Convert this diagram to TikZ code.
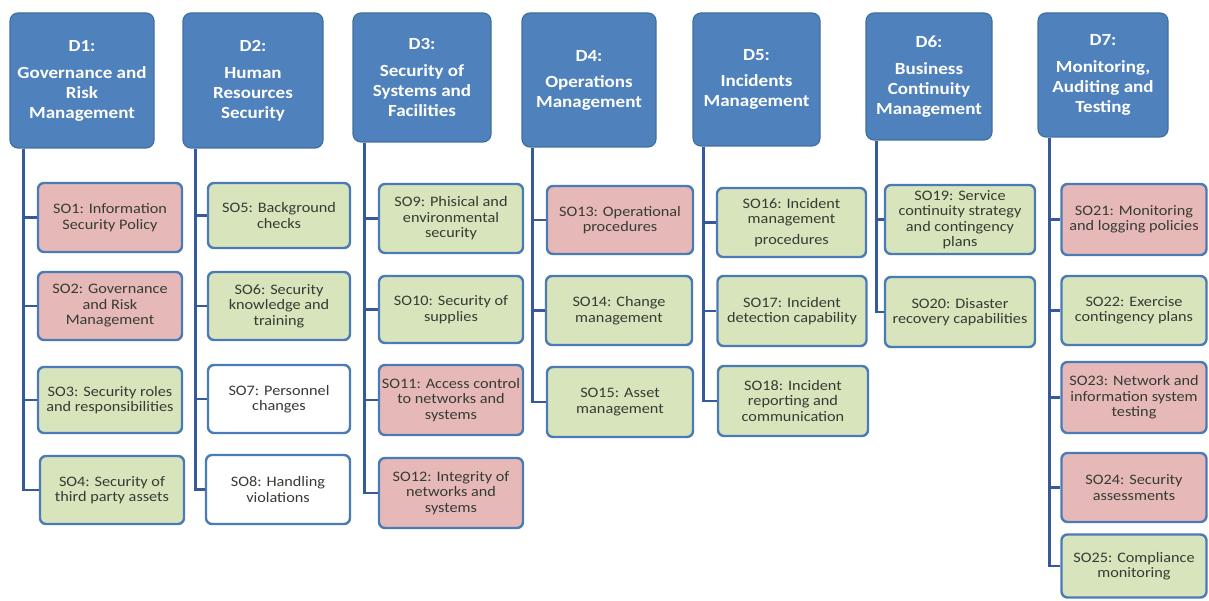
\documentclass[tikz,border=0pt]{standalone}
\usepackage{fontspec}
\usetikzlibrary{calc}
\newfontfamily\calfont[FakeStretch=1.12]{Carlito}
\definecolor{hdrfill}{HTML}{4F81BD}
\definecolor{hdrborder}{HTML}{41709F}
\definecolor{soborder}{HTML}{4A7BB7}
\definecolor{pinkc}{HTML}{E6B9B8}
\definecolor{greenc}{HTML}{D8E4BC}
\definecolor{sotext}{HTML}{363B33}
\definecolor{connc}{HTML}{35599A}
\tikzset{
  hdr/.style={draw=hdrborder, fill=hdrfill, rounded corners=8pt, line width=1.2pt,
    text=white, font=\calfont\bfseries\fontsize{17}{20}\selectfont, align=center, inner sep=0pt},
  so/.style={draw=soborder, line width=2.4pt, rounded corners=6pt,
    font=\calfont\fontsize{14.5}{15.5}\selectfont, text=sotext, align=center, inner sep=0pt},
  pk/.style={so, fill=pinkc},
  gr/.style={so, fill=greenc},
  wh/.style={so, fill=white},
  conn/.style={draw=connc, line width=2.6pt},
}
\begin{document}
\begin{tikzpicture}[x=1pt,y=-1pt]
\useasboundingbox (0,0) rectangle (1209,601);
% headers
\node[hdr, minimum width=144, minimum height=135] (d1) at (82,80.5) {D1:\\[7pt]Governance and\\Risk\\Management};
\node[hdr, minimum width=140, minimum height=135] (d2) at (253,80.5) {D2:\\[7pt]Human\\Resources\\Security};
\node[hdr, minimum width=138, minimum height=129] (d3) at (422,77.5) {D3:\\[7pt]Security of\\Systems and\\Facilities};
\node[hdr, minimum width=134, minimum height=134] (d4) at (589,80) {D4:\\[6pt]Operations\\Management};
\node[hdr, minimum width=127, minimum height=133] (d5) at (756.5,79.5) {D5:\\[6pt]Incidents\\Management};
\node[hdr, minimum width=126, minimum height=127] (d6) at (929,76.5) {D6:\\[7pt]Business\\Continuity\\Management};
\node[hdr, minimum width=130, minimum height=124] (d7) at (1103,75) {D7:\\[7pt]Monitoring,\\Auditing and\\Testing};
% D1 children
\node[pk, minimum width=144, minimum height=69] (so1) at (110,217.5) {SO1: Information\\Security Policy};
\node[pk, minimum width=144, minimum height=68] (so2) at (110,306) {SO2: Governance\\and Risk\\Management};
\node[gr, minimum width=144, minimum height=66] (so3) at (110,400) {SO3: Security roles\\and responsibilities};
\node[gr, minimum width=144, minimum height=68] (so4) at (112,490) {SO4: Security of\\third party assets};
% D2 children
\node[gr, minimum width=142, minimum height=65] (so5) at (279,215.5) {SO5: Background\\checks};
\node[gr, minimum width=142, minimum height=68] (so6) at (279,306) {SO6: Security\\knowledge and\\training};
\node[wh, minimum width=142, minimum height=68] (so7) at (279,399) {SO7: Personnel\\changes};
\node[wh, minimum width=144, minimum height=69] (so8) at (278,489.5) {SO8: Handling\\violations};
% D3 children
\node[gr, minimum width=144, minimum height=69] (so9) at (451,218.5) {SO9: Phisical and\\environmental\\security};
\node[gr, minimum width=144, minimum height=67] (so10) at (451,309.5) {SO10: Security of\\supplies};
\node[pk, minimum width=144, minimum height=70] (so11) at (451,400) {SO11: Access control\\to networks and\\systems};
\node[pk, minimum width=144, minimum height=70] (so12) at (451,493) {SO12: Integrity of\\networks and\\systems};
% D4 children
\node[pk, minimum width=146, minimum height=68] (so13) at (620,220) {SO13: Operational\\procedures};
\node[gr, minimum width=146, minimum height=69] (so14) at (619,310.5) {SO14: Change\\management};
\node[gr, minimum width=146, minimum height=70] (so15) at (620,402) {SO15: Asset\\management};
% D5 children
\node[gr, minimum width=149, minimum height=69] (so16) at (791.5,222.5) {SO16: Incident\\management\\[5pt]procedures};
\node[gr, minimum width=149, minimum height=70] (so17) at (792,311) {SO17: Incident\\detection capability};
\node[gr, minimum width=150, minimum height=70] (so18) at (793,401) {SO18: Incident\\reporting and\\communication};
% D6 children
\node[gr, minimum width=150, minimum height=69] (so19) at (960,219.5) {SO19: Service\\continuity strategy\\and contingency\\plans};
\node[gr, minimum width=150, minimum height=70] (so20) at (960,312) {SO20: Disaster\\recovery capabilities};
% D7 children
\node[pk, minimum width=145, minimum height=71] (so21) at (1134,219.5) {SO21: Monitoring\\and logging policies};
\node[gr, minimum width=145, minimum height=69] (so22) at (1134,310.5) {SO22: Exercise\\contingency plans};
\node[pk, minimum width=145, minimum height=71] (so23) at (1134,397.5) {SO23: Network and\\information system\\testing};
\node[pk, minimum width=145, minimum height=69] (so24) at (1134,487.5) {SO24: Security\\assessments};
\node[gr, minimum width=145, minimum height=63] (so25) at (1134,566) {SO25: Compliance\\monitoring};
% connectors
\coordinate (t1) at ($(d1.south west)+(14,0)$);
\coordinate (t2) at ($(d2.south west)+(13,0)$);
\coordinate (t3) at ($(d3.south west)+(12,0)$);
\coordinate (t4) at ($(d4.south west)+(11,0)$);
\coordinate (t5) at ($(d5.south west)+(11,0)$);
\coordinate (t6) at ($(d6.south west)+(11,0)$);
\coordinate (t7) at ($(d7.south west)+(12,0)$);
\foreach \s in {so1,so2,so3,so4} \draw[conn] (t1) |- (\s.west);
\foreach \s in {so5,so6,so7,so8} \draw[conn] (t2) |- (\s.west);
\foreach \s in {so9,so10,so11,so12} \draw[conn] (t3) |- (\s.west);
\foreach \s in {so13,so14,so15} \draw[conn] (t4) |- (\s.west);
\foreach \s in {so16,so17,so18} \draw[conn] (t5) |- (\s.west);
\foreach \s in {so19,so20} \draw[conn] (t6) |- (\s.west);
\foreach \s in {so21,so22,so23,so24,so25} \draw[conn] (t7) |- (\s.west);
\end{tikzpicture}
\end{document}
